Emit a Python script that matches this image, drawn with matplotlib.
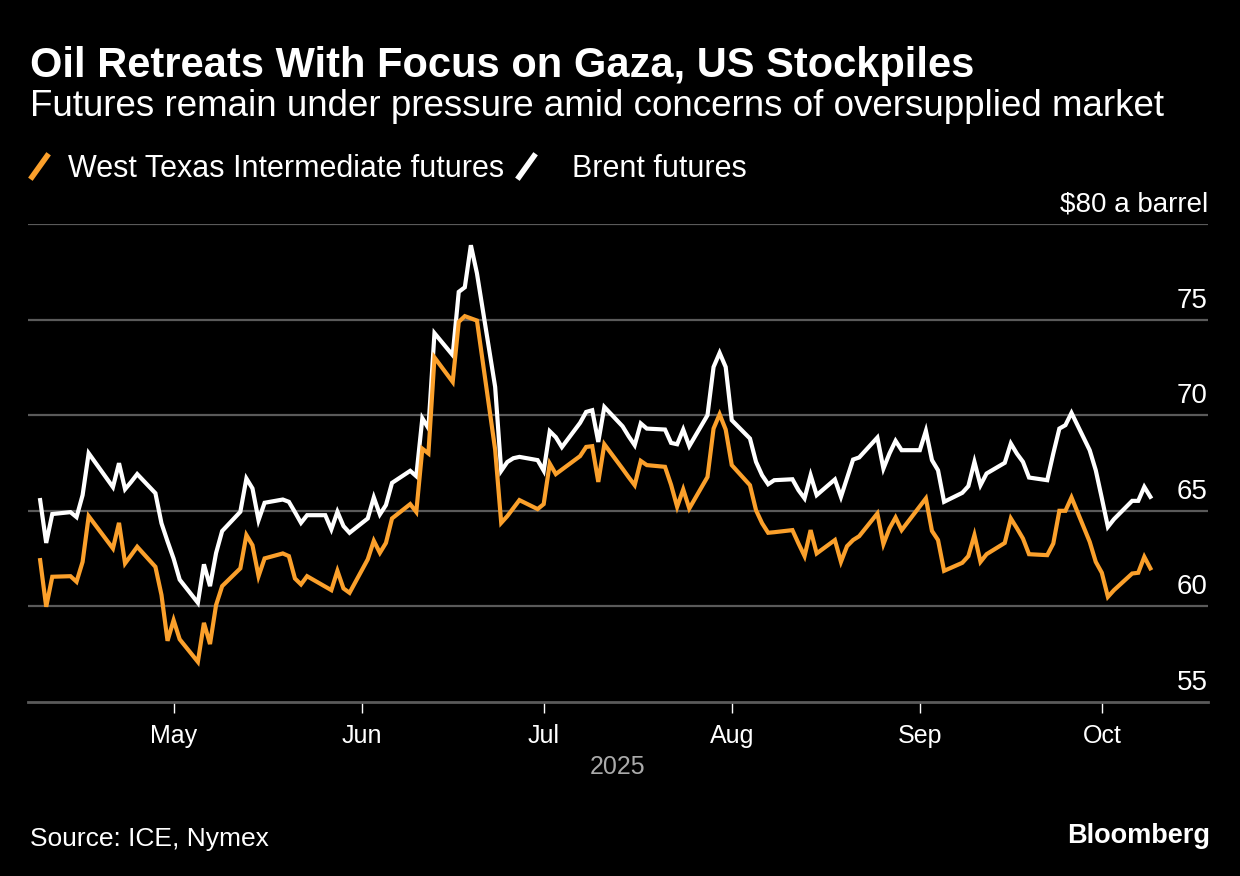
import matplotlib
matplotlib.use("Agg")
import matplotlib.pyplot as plt
import matplotlib.transforms as mtransforms
from matplotlib.lines import Line2D
import pandas as pd

# Brent futures (white line)
brent_dates = [
    "2025-04-09", "2025-04-10", "2025-04-11", "2025-04-14", "2025-04-15", "2025-04-16",
    "2025-04-17", "2025-04-21", "2025-04-22", "2025-04-23", "2025-04-24", "2025-04-25",
    "2025-04-28", "2025-04-29", "2025-04-30", "2025-05-01", "2025-05-02", "2025-05-05",
    "2025-05-06", "2025-05-07", "2025-05-08", "2025-05-09", "2025-05-12", "2025-05-13",
    "2025-05-14", "2025-05-15", "2025-05-16", "2025-05-19", "2025-05-20", "2025-05-21",
    "2025-05-22", "2025-05-23", "2025-05-26", "2025-05-27", "2025-05-28", "2025-05-29",
    "2025-05-30", "2025-06-02", "2025-06-03", "2025-06-04", "2025-06-05", "2025-06-06",
    "2025-06-09", "2025-06-10", "2025-06-11", "2025-06-12", "2025-06-13", "2025-06-16",
    "2025-06-17", "2025-06-18", "2025-06-19", "2025-06-20", "2025-06-23", "2025-06-24",
    "2025-06-25", "2025-06-26", "2025-06-27", "2025-06-30", "2025-07-01", "2025-07-02",
    "2025-07-03", "2025-07-04", "2025-07-07", "2025-07-08", "2025-07-09", "2025-07-10",
    "2025-07-11", "2025-07-14", "2025-07-15", "2025-07-16", "2025-07-17", "2025-07-18",
    "2025-07-21", "2025-07-22", "2025-07-23", "2025-07-24", "2025-07-25", "2025-07-28",
    "2025-07-29", "2025-07-30", "2025-07-31", "2025-08-01", "2025-08-04", "2025-08-05",
    "2025-08-06", "2025-08-07", "2025-08-08", "2025-08-11", "2025-08-12", "2025-08-13",
    "2025-08-14", "2025-08-15", "2025-08-18", "2025-08-19", "2025-08-20", "2025-08-21",
    "2025-08-22", "2025-08-25", "2025-08-26", "2025-08-27", "2025-08-28", "2025-08-29",
    "2025-09-01", "2025-09-02", "2025-09-03", "2025-09-04", "2025-09-05", "2025-09-08",
    "2025-09-09", "2025-09-10", "2025-09-11", "2025-09-12", "2025-09-15", "2025-09-16",
    "2025-09-17", "2025-09-18", "2025-09-19", "2025-09-22", "2025-09-23", "2025-09-24",
    "2025-09-25", "2025-09-26", "2025-09-29", "2025-09-30", "2025-10-01", "2025-10-02",
    "2025-10-03", "2025-10-06", "2025-10-07", "2025-10-08", "2025-10-09",
]
brent = [
    65.56, 63.32, 64.83, 64.93, 64.67, 65.82,
    68.01, 66.24, 67.49, 66.13, 66.51, 66.92,
    65.92, 64.35, 63.40, 62.50, 61.40, 60.19,
    62.20, 61.06, 62.79, 63.94, 64.95, 66.69,
    66.17, 64.51, 65.42, 65.59, 65.47, 64.93,
    64.37, 64.77, 64.77, 64.03, 64.95, 64.20,
    63.85, 64.60, 65.70, 64.81, 65.30, 66.46,
    67.09, 66.81, 69.84, 69.32, 74.29, 73.14,
    76.45, 76.69, 78.89, 77.42, 71.48, 67.09,
    67.55, 67.75, 67.82, 67.65, 67.10, 69.16,
    68.85, 68.33, 69.60, 70.17, 70.26, 68.60,
    70.43, 69.42, 68.90, 68.43, 69.57, 69.30,
    69.25, 68.55, 68.48, 69.25, 68.38, 70.00,
    72.52, 73.26, 72.52, 69.74, 68.78, 67.56,
    66.86, 66.39, 66.60, 66.65, 66.08, 65.65,
    66.86, 65.82, 66.64, 65.73, 66.70, 67.68,
    67.79, 68.83, 67.21, 68.00, 68.66, 68.17,
    68.17, 69.18, 67.65, 67.12, 65.47, 65.94,
    66.29, 67.56, 66.34, 66.95, 67.51, 68.52,
    67.99, 67.56, 66.74, 66.60, 68.00, 69.30,
    69.48, 70.12, 68.17, 67.12, 65.66, 64.16,
    64.56, 65.52, 65.52, 66.25, 65.73,
]

# West Texas Intermediate futures (orange line); no settlement on US holidays
wti_dates = [
    "2025-04-09", "2025-04-10", "2025-04-11", "2025-04-14", "2025-04-15", "2025-04-16",
    "2025-04-17", "2025-04-21", "2025-04-22", "2025-04-23", "2025-04-24", "2025-04-25",
    "2025-04-28", "2025-04-29", "2025-04-30", "2025-05-01", "2025-05-02", "2025-05-05",
    "2025-05-06", "2025-05-07", "2025-05-08", "2025-05-09", "2025-05-12", "2025-05-13",
    "2025-05-14", "2025-05-15", "2025-05-16", "2025-05-19", "2025-05-20", "2025-05-21",
    "2025-05-22", "2025-05-23", "2025-05-27", "2025-05-28", "2025-05-29",
    "2025-05-30", "2025-06-02", "2025-06-03", "2025-06-04", "2025-06-05", "2025-06-06",
    "2025-06-09", "2025-06-10", "2025-06-11", "2025-06-12", "2025-06-13", "2025-06-16",
    "2025-06-17", "2025-06-18", "2025-06-20", "2025-06-23", "2025-06-24",
    "2025-06-25", "2025-06-26", "2025-06-27", "2025-06-30", "2025-07-01", "2025-07-02",
    "2025-07-03", "2025-07-07", "2025-07-08", "2025-07-09", "2025-07-10",
    "2025-07-11", "2025-07-14", "2025-07-15", "2025-07-16", "2025-07-17", "2025-07-18",
    "2025-07-21", "2025-07-22", "2025-07-23", "2025-07-24", "2025-07-25", "2025-07-28",
    "2025-07-29", "2025-07-30", "2025-07-31", "2025-08-01", "2025-08-04", "2025-08-05",
    "2025-08-06", "2025-08-07", "2025-08-08", "2025-08-11", "2025-08-12", "2025-08-13",
    "2025-08-14", "2025-08-15", "2025-08-18", "2025-08-19", "2025-08-20", "2025-08-21",
    "2025-08-22", "2025-08-25", "2025-08-26", "2025-08-27", "2025-08-28", "2025-08-29",
    "2025-09-02", "2025-09-03", "2025-09-04", "2025-09-05", "2025-09-08",
    "2025-09-09", "2025-09-10", "2025-09-11", "2025-09-12", "2025-09-15", "2025-09-16",
    "2025-09-17", "2025-09-18", "2025-09-19", "2025-09-22", "2025-09-23", "2025-09-24",
    "2025-09-25", "2025-09-26", "2025-09-29", "2025-09-30", "2025-10-01", "2025-10-02",
    "2025-10-03", "2025-10-06", "2025-10-07", "2025-10-08", "2025-10-09",
]
wti = [
    62.42, 59.98, 61.55, 61.58, 61.29, 62.33,
    64.72, 63.03, 64.37, 62.25, 62.68, 63.12,
    62.07, 60.60, 58.20, 59.28, 58.28, 57.10,
    59.14, 58.03, 60.07, 61.06, 61.99, 63.73,
    63.20, 61.58, 62.51, 62.77, 62.63, 61.46,
    61.15, 61.58, 60.85, 61.86, 60.94,
    60.71, 62.46, 63.43, 62.80, 63.32, 64.60,
    65.35, 64.94, 68.25, 68.00, 73.02, 71.74,
    74.88, 75.18, 74.95, 68.20, 64.37,
    64.72, 65.14, 65.56, 65.09, 65.35, 67.47,
    66.92, 67.86, 68.34, 68.38, 66.51,
    68.48, 67.20, 66.76, 66.34, 67.61, 67.39,
    67.30, 66.36, 65.21, 66.12, 65.12, 66.77,
    69.30, 70.05, 69.25, 67.39, 66.34, 65.03,
    64.35, 63.85, 63.88, 63.99, 63.29, 62.63,
    63.99, 62.77, 63.47, 62.33, 63.15, 63.47,
    63.67, 64.86, 63.26, 64.08, 64.65, 63.99,
    65.65, 63.95, 63.47, 61.86, 62.28,
    62.63, 63.73, 62.33, 62.73, 63.32, 64.60,
    64.09, 63.55, 62.73, 62.68, 63.29, 65.00,
    65.00, 65.70, 63.38, 62.33, 61.76, 60.50,
    60.85, 61.72, 61.76, 62.59, 61.99,
]

y_ticks = [55, 60, 65, 70, 75, 80]
y_labels = ["55", "60", "65", "70", "75", "$80 a barrel"]
month_ticks = ["2025-05-01", "2025-06-01", "2025-07-01", "2025-08-01", "2025-09-01", "2025-10-01"]
month_labels = ["May", "Jun", "Jul", "Aug", "Sep", "Oct"]

ORANGE = "#FBA02B"
GRID = "#5a5a5a"
FONT = "Liberation Sans"

plt.rcParams["font.family"] = [FONT, "DejaVu Sans"]

fig = plt.figure(figsize=(12.4, 8.76), dpi=100, facecolor="black")
ax = fig.add_axes([28 / 1240, 1 - 702 / 876, 1180 / 1240, 478 / 876])
ax.set_facecolor("black")

ax.plot(pd.to_datetime(brent_dates), brent, color="white", lw=3, solid_joinstyle="miter", zorder=3)
ax.plot(pd.to_datetime(wti_dates), wti, color=ORANGE, lw=3, solid_joinstyle="miter", zorder=4)

ax.set_ylim(55, 80)
ax.set_xlim(pd.Timestamp("2025-04-07"), pd.Timestamp("2025-10-18 12:00"))

# value labels sit just above their gridlines, right-aligned
lift = mtransforms.offset_copy(ax.get_yaxis_transform(), fig=fig, x=0, y=6, units="dots")
for v in y_ticks[1:]:
    ax.axhline(v, color=GRID, lw=1.6, zorder=1)
for v, lab in zip(y_ticks, y_labels):
    ax.text(1.0, v, lab, transform=lift, ha="right", va="bottom",
            color="white", fontsize=20)

for s in ["top", "right", "left"]:
    ax.spines[s].set_visible(False)
ax.spines["bottom"].set_color(GRID)
ax.spines["bottom"].set_linewidth(2)
ax.set_yticks([])
ax.set_xticks(pd.to_datetime(month_ticks))
ax.set_xticklabels(month_labels)
ax.tick_params(axis="x", colors="white", length=8, width=1, labelsize=18, pad=8)
ax.set_xlabel("2025", color="#aaaaaa", fontsize=18, labelpad=5)

fig.text(30 / 1240, 1 - 66 / 876, "Oil Retreats With Focus on Gaza, US Stockpiles",
         color="white", fontsize=30, fontweight="bold", va="center")
fig.text(30 / 1240, 1 - 107 / 876, "Futures remain under pressure amid concerns of oversupplied market",
         color="white", fontsize=26.5, va="center")

# legend
for x0, col in [(32, ORANGE), (519, "white")]:
    fig.add_artist(Line2D([x0 / 1240, (x0 + 15) / 1240], [1 - 177 / 876, 1 - 156 / 876],
                          color=col, lw=4, transform=fig.transFigure))
fig.text(68 / 1240, 1 - 169 / 876, "West Texas Intermediate futures", color="white",
         fontsize=22, va="center")
fig.text(572 / 1240, 1 - 169 / 876, "Brent futures", color="white", fontsize=22, va="center")

fig.text(30 / 1240, 1 - 839 / 876, "Source: ICE, Nymex", color="white", fontsize=19, va="center")
fig.text(1210 / 1240, 1 - 836 / 876, "Bloomberg", color="white", fontsize=19.5,
         fontweight="bold", ha="right", va="center")

fig.savefig("out.png", dpi=100, facecolor="black")
